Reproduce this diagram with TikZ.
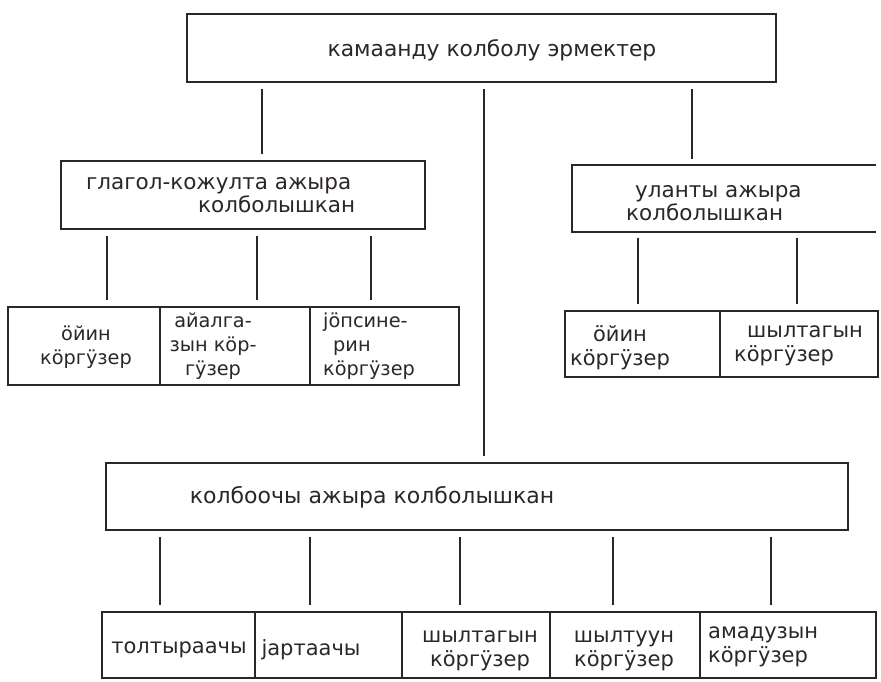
\documentclass[tikz,border=0pt]{standalone}
\usepackage{fontspec}
\setmainfont{DejaVu Sans}
\usetikzlibrary{calc}
\definecolor{ink}{HTML}{2B2724}
\begin{document}
\begin{tikzpicture}[x=1pt,y=-1pt,
  box/.style={draw=ink, line width=1.7pt, rectangle, inner sep=0pt},
  openbox/.style={rectangle, inner sep=0pt},
  lbl/.style={text=ink, inner sep=0pt},
  fA/.style={font=\fontsize{21.8}{25}\selectfont},
  fB/.style={font=\fontsize{21.5}{23}\selectfont},
  fC/.style={font=\fontsize{19.3}{24}\selectfont},
  fE/.style={font=\fontsize{21}{24}\selectfont},
  fK/.style={font=\fontsize{22}{25}\selectfont},
  conn/.style={draw=ink, line width=1.5pt, shorten >=6pt, shorten <=6pt},
  divider/.style={draw=ink, line width=1.4pt}]
\useasboundingbox (0,0) rectangle (881,681);
\fill[white] (0,0) rectangle (881,681);

% top box
\node[box, minimum width=589pt, minimum height=68pt] (top) at (481.5,48) {};
\node[lbl, fA] (toptxt) at (492,50) {камаанду колболу эрмектер};

% left middle box
\node[box, minimum width=364pt, minimum height=68pt] (gk) at (243,195) {};
\node[lbl, fB, align=left, anchor=west] (gktxt) at (86,195) {глагол-кожулта ажыра\\\hspace*{112pt}колболышкан};

% right middle box (open on the right)
\node[openbox, minimum width=304pt, minimum height=67pt] (ul) at (724,198.5) {};
\draw[draw=ink, line width=1.7pt] (ul.north east) -- (ul.north west) -- (ul.south west) -- (ul.south east);
\node[lbl, fB, align=left, anchor=west] (ultxt) at (626,203) {\hspace*{9pt}уланты ажыра\\колболышкан};

% bottom-left box
\node[box, minimum width=451pt, minimum height=78pt] (bl) at (233.5,346) {};
\node[lbl, fC, align=center] (bl1) at (86,347) {ӧйин\\кӧргӱзер};
\node[lbl, fC, align=center] (bl2) at (213,346) {айалга-\\зын кӧр-\\гӱзер};
\node[lbl, fC, align=left, anchor=west] (bl3) at (323,346) {јӧпсине-\\\hspace*{10pt}рин\\кӧргӱзер};
\coordinate (d1) at (160,0);
\coordinate (d2) at (310,0);
\draw[divider] (bl.north -| d1) -- (bl.south -| d1);
\draw[divider] (bl.north -| d2) -- (bl.south -| d2);

% bottom-right box
\node[box, minimum width=313pt, minimum height=66pt] (br) at (721.5,344) {};
\node[lbl, fE, align=center] (br1) at (620,348) {ӧйин\\кӧргӱзер};
\node[lbl, fE, align=left, anchor=west] (br2) at (734,346) {\hspace*{13pt}шылтагын\\кӧргӱзер};
\coordinate (d3) at (720,0);
\draw[divider] (br.north -| d3) -- (br.south -| d3);

% big box
\node[box, minimum width=742pt, minimum height=67pt] (kb) at (477,496.5) {};
\node[lbl, fK] (kbtxt) at (372,497) {колбоочы ажыра колболышкан};

% bottom row box
\node[box, minimum width=774pt, minimum height=66pt] (bb) at (489,645) {};
\node[lbl, fE] (bb1) at (179,650) {толтыраачы};
\node[lbl, fE] (bb2) at (311,650) {јартаачы};
\node[lbl, fE, align=center] (bb3) at (480,651) {шылтагын\\кӧргӱзер};
\node[lbl, fE, align=center] (bb4) at (624,651) {шылтуун\\кӧргӱзер};
\node[lbl, fE, align=left, anchor=west] (bb5) at (708,647) {амадузын\\кӧргӱзер};
\foreach \dx/\nm in {255/e1,402/e2,550/e3,700/e4} {
  \coordinate (\nm) at (\dx,0);
  \draw[divider] (bb.north -| \nm) -- (bb.south -| \nm);
}

% connectors
\coordinate (c1) at (262,0);
\coordinate (c2) at (484,0);
\coordinate (c3) at (692,0);
\draw[conn] (top.south -| c1) -- (gk.north -| c1);
\draw[conn] (top.south -| c2) -- (kb.north -| c2);
\draw[conn] (top.south -| c3) -- (ul.north -| c3);

\foreach \cx/\nm in {107/g1,257/g2,371/g3} {
  \coordinate (\nm) at (\cx,0);
  \draw[conn] (gk.south -| \nm) -- (bl.north -| \nm);
}
\foreach \cx/\nm in {638/u1,797/u2} {
  \coordinate (\nm) at (\cx,0);
  \draw[conn] (ul.south -| \nm) -- (br.north -| \nm);
}
\foreach \cx/\nm in {160/k1,310/k2,460/k3,613/k4,771/k5} {
  \coordinate (\nm) at (\cx,0);
  \draw[conn] (kb.south -| \nm) -- (bb.north -| \nm);
}
\end{tikzpicture}
\end{document}
